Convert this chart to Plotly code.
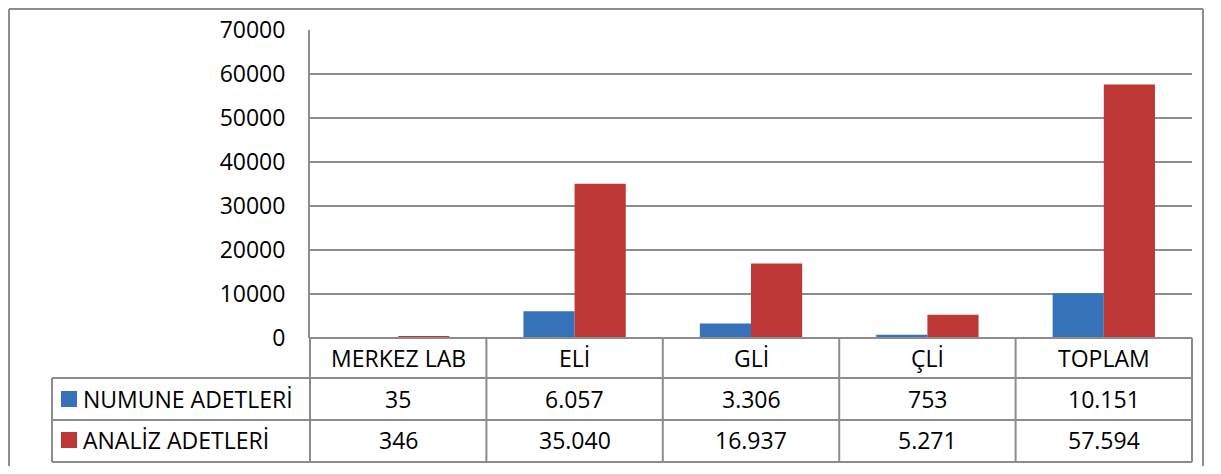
import plotly.graph_objects as go

categories = ["MERKEZ LAB", "ELİ", "GLİ", "ÇLİ", "TOPLAM"]
series_names = ["NUMUNE ADETLERİ", "ANALİZ ADETLERİ"]
numune = [35, 6057, 3306, 753, 10151]
analiz = [346, 35040, 16937, 5271, 57594]
y_ticks = [0, 10000, 20000, 30000, 40000, 50000, 60000, 70000]

colors = ["#3672BA", "#BD3734"]
OFF = 8  # default page body margin
W, H = 1221 - OFF, 474 - 2 * OFF
L, R, T, B = 310 - OFF, 1192 - OFF, 30 - OFF, 338 - OFF
FONT = "Open Sans"
GRID = "#8C8C8C"


def px(x):
    return (x - OFF - L) / (R - L)


def py(y):
    return (B - (y - OFF)) / (B - T)


def fmt(v):
    return f"{v:,}".replace(",", ".")


fig = go.Figure()
for name, vals, c in zip(series_names, [numune, analiz], colors):
    fig.add_trace(go.Bar(x=categories, y=vals, name=name, marker_color=c,
                         marker_line_width=0, showlegend=False))

shapes = []
line = dict(color=GRID, width=2)
# outer chart border (left, top, right), as close to the page edge as possible
bline = dict(color="#8C8C8C", width=2)
shapes.append(dict(type="line", xref="paper", yref="paper",
                   x0=px(9), x1=px(9), y0=py(480), y1=py(9), line=bline))
shapes.append(dict(type="line", xref="paper", yref="paper",
                   x0=px(9), x1=px(1203), y0=py(9), y1=py(9), line=bline))
shapes.append(dict(type="line", xref="paper", yref="paper",
                   x0=px(1203), x1=px(1203), y0=py(480), y1=py(9), line=bline))
# table rows
row_lines = [338, 378, 420, 462]
shapes.append(dict(type="line", xref="paper", yref="paper", x0=px(310), x1=px(1192),
                   y0=py(338), y1=py(338), line=line))
for yy in row_lines[1:]:
    shapes.append(dict(type="line", xref="paper", yref="paper", x0=px(52), x1=px(1192),
                       y0=py(yy), y1=py(yy), line=line))
# table columns
n = len(categories)
for i in range(n + 1):
    xx = 310 + (1192 - 310) * i / n
    shapes.append(dict(type="line", xref="paper", yref="paper", x0=px(xx), x1=px(xx),
                       y0=py(338), y1=py(462), line=line))
shapes.append(dict(type="line", xref="paper", yref="paper", x0=px(52), x1=px(52),
                   y0=py(378), y1=py(462), line=line))

annotations = []
tfont = dict(family=FONT, size=23, color="#000000")
row_centers = [358, 399, 440]
for i, cat in enumerate(categories):
    annotations.append(dict(x=cat, xref="x", y=py(row_centers[0]), yref="paper",
                            text=cat, showarrow=False, font=tfont,
                            xanchor="center", yanchor="middle"))
    for r, vals in enumerate([numune, analiz]):
        annotations.append(dict(x=cat, xref="x", y=py(row_centers[r + 1]), yref="paper",
                                text=fmt(vals[i]), showarrow=False, font=tfont,
                                xanchor="center", yanchor="middle"))
# legend keys in the table
for r, (name, c) in enumerate(zip(series_names, colors)):
    yc = row_centers[r + 1]
    shapes.append(dict(type="rect", xref="paper", yref="paper",
                       x0=px(61), x1=px(77), y0=py(yc + 8), y1=py(yc - 8),
                       fillcolor=c, line=dict(width=0)))
    annotations.append(dict(x=px(81), xref="paper", y=py(yc), yref="paper",
                            text=name, showarrow=False, font=tfont,
                            xanchor="left", yanchor="middle"))

fig.update_layout(
    width=W, height=H,
    margin=dict(l=L, r=W - R, t=T, b=H - B, pad=0, autoexpand=False),
    paper_bgcolor="white", plot_bgcolor="white",
    barmode="group", bargap=0.42, bargroupgap=0,
    shapes=shapes, annotations=annotations,
    font=dict(family=FONT, size=23, color="#000000"),
)
fig.update_xaxes(showticklabels=False, showgrid=False, showline=False,
                 zeroline=False, ticks="", automargin=False)
fig.update_yaxes(range=[0, 70000], tickvals=y_ticks,
                 ticktext=[str(v) for v in y_ticks],
                 showgrid=True, gridcolor=GRID, gridwidth=2,
                 showline=True, linecolor=GRID, linewidth=2,
                 zeroline=False, ticks="", ticklabelstandoff=18, automargin=False,
                 tickfont=dict(family=FONT, size=23, color="#000000"))

fig.write_html("out.html")
